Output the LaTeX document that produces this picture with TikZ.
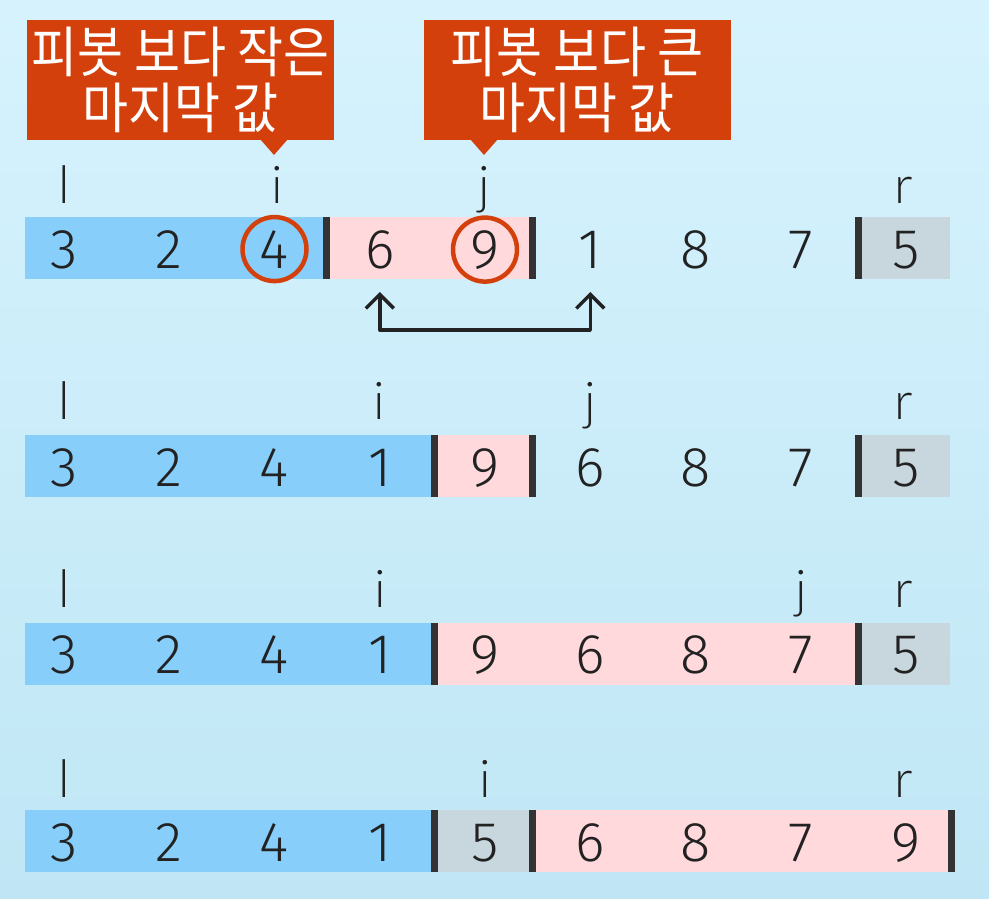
\documentclass[tikz,border=0pt]{standalone}
\usepackage{fontspec}
\setmainfont{Fira Sans Light}
\newfontfamily\lblfont{Lato Light}
\newfontfamily\krfont{Noto Sans CJK KR}
\usetikzlibrary{arrows.meta}
\definecolor{bgtop}{RGB}{214,243,253}
\definecolor{bgbot}{RGB}{192,230,245}
\definecolor{cblue}{RGB}{135,206,250}
\definecolor{cpink}{RGB}{255,217,219}
\definecolor{cgray}{RGB}{200,214,222}
\definecolor{cbar}{RGB}{51,51,51}
\definecolor{cred}{RGB}{212,64,12}
\definecolor{ink}{RGB}{34,34,34}
\tikzset{
  digit/.style={anchor=base, inner sep=0pt, text=ink, font=\fontsize{56}{56}\selectfont},
  lbl/.style={anchor=base, inner sep=0pt, text=ink, font=\lblfont\fontsize{52}{52}\selectfont},
  callout/.style={fill=cred, text=white, inner sep=0pt, align=center,
    minimum width=307pt, minimum height=120pt, font=\krfont\fontsize{50}{56}\selectfont},
  ring/.style={draw=cred, line width=4.5pt},
  bar/.style={fill=cbar},
  swaparrow/.style={draw=ink, line width=3.5pt, line join=round,
    {Straight Barb[length=14pt,width=28pt,line width=3.5pt]}-{Straight Barb[length=14pt,width=28pt,line width=3.5pt]}}
}
\begin{document}
\begin{tikzpicture}[x=1pt,y=-1pt]
\useasboundingbox (0,0) rectangle (989,899);
\shade[top color=bgtop, bottom color=bgbot] (0,0) rectangle (989,899);

% ---------- row 1 ----------
\fill[cblue] (25,217) rectangle (323,279);
\fill[cpink] (330,217) rectangle (529,279);
\fill[cgray] (862,217) rectangle (950,279);
\fill[bar] (323,217) rectangle (330,279);
\fill[bar] (529,217) rectangle (536,279);
\fill[bar] (855,217) rectangle (862,279);
\foreach \v [count=\k] in {3,2,4,6,9,1,8,7,5}
  \node[digit] (r1c\k) at ({64+105.25*(\k-1)},268) {\v};
\node[lbl] (r1l) at (64,203) {l};
\node[lbl] (r1i) at (277,203) {i};
\node[lbl] (r1j) at (484,203) {j};
\node[lbl] (r1r) at (904,203) {r};
\draw[ring] (r1c3.center) circle[radius=32];
\draw[ring] (r1c5.center) circle[radius=32];

% callouts
\node[callout] (cA) at (180.5,80) {\scalebox{1}[1.1]{피봇 보다 작은}\\\scalebox{1}[1.1]{마지막 값}};
\fill[cred] (260,139) -- (274,155) -- (288,139) -- cycle;
\node[callout] (cB) at (577,80) {\scalebox{1}[1.1]{피봇 보다 큰}\\\scalebox{1}[1.1]{마지막 값}};
\fill[cred] (470,139) -- (484,155) -- (498,139) -- cycle;

% swap arrow
\coordinate (sA) at ([yshift=-24pt]r1c4.base);
\coordinate (sB) at ([yshift=-24pt]r1c6.base);
\coordinate (sbase) at (0,330);
\draw[swaparrow] (sA) -- (sA |- sbase) -- (sB |- sbase) -- (sB);

% ---------- row 2 ----------
\fill[cblue] (25,435) rectangle (431,497);
\fill[cpink] (438,435) rectangle (529,497);
\fill[cgray] (862,435) rectangle (950,497);
\fill[bar] (431,435) rectangle (438,497);
\fill[bar] (529,435) rectangle (536,497);
\fill[bar] (855,435) rectangle (862,497);
\foreach \v [count=\k] in {3,2,4,1,9,6,8,7,5}
  \node[digit] (r2c\k) at ({64+105.25*(\k-1)},486) {\v};
\node[lbl] (r2l) at (64,419) {l};
\node[lbl] (r2i) at (379,419) {i};
\node[lbl] (r2j) at (590,419) {j};
\node[lbl] (r2r) at (904,419) {r};

% ---------- row 3 ----------
\fill[cblue] (25,623) rectangle (431,685);
\fill[cpink] (438,623) rectangle (855,685);
\fill[cgray] (862,623) rectangle (950,685);
\fill[bar] (431,623) rectangle (438,685);
\fill[bar] (855,623) rectangle (862,685);
\foreach \v [count=\k] in {3,2,4,1,9,6,8,7,5}
  \node[digit] (r3c\k) at ({64+105.25*(\k-1)},673) {\v};
\node[lbl] (r3l) at (64,607) {l};
\node[lbl] (r3i) at (380,607) {i};
\node[lbl] (r3j) at (801,607) {j};
\node[lbl] (r3r) at (904,607) {r};

% ---------- row 4 ----------
\fill[cblue] (25,810) rectangle (431,872);
\fill[cgray] (438,810) rectangle (529,872);
\fill[cpink] (536,810) rectangle (948,872);
\fill[bar] (431,810) rectangle (438,872);
\fill[bar] (529,810) rectangle (536,872);
\fill[bar] (948,810) rectangle (955,872);
\foreach \v [count=\k] in {3,2,4,1,5,6,8,7,9}
  \node[digit] (r4c\k) at ({64+105.25*(\k-1)},861) {\v};
\node[lbl] (r4l) at (64,797) {l};
\node[lbl] (r4i) at (485,797) {i};
\node[lbl] (r4r) at (904,797) {r};
\end{tikzpicture}
\end{document}
